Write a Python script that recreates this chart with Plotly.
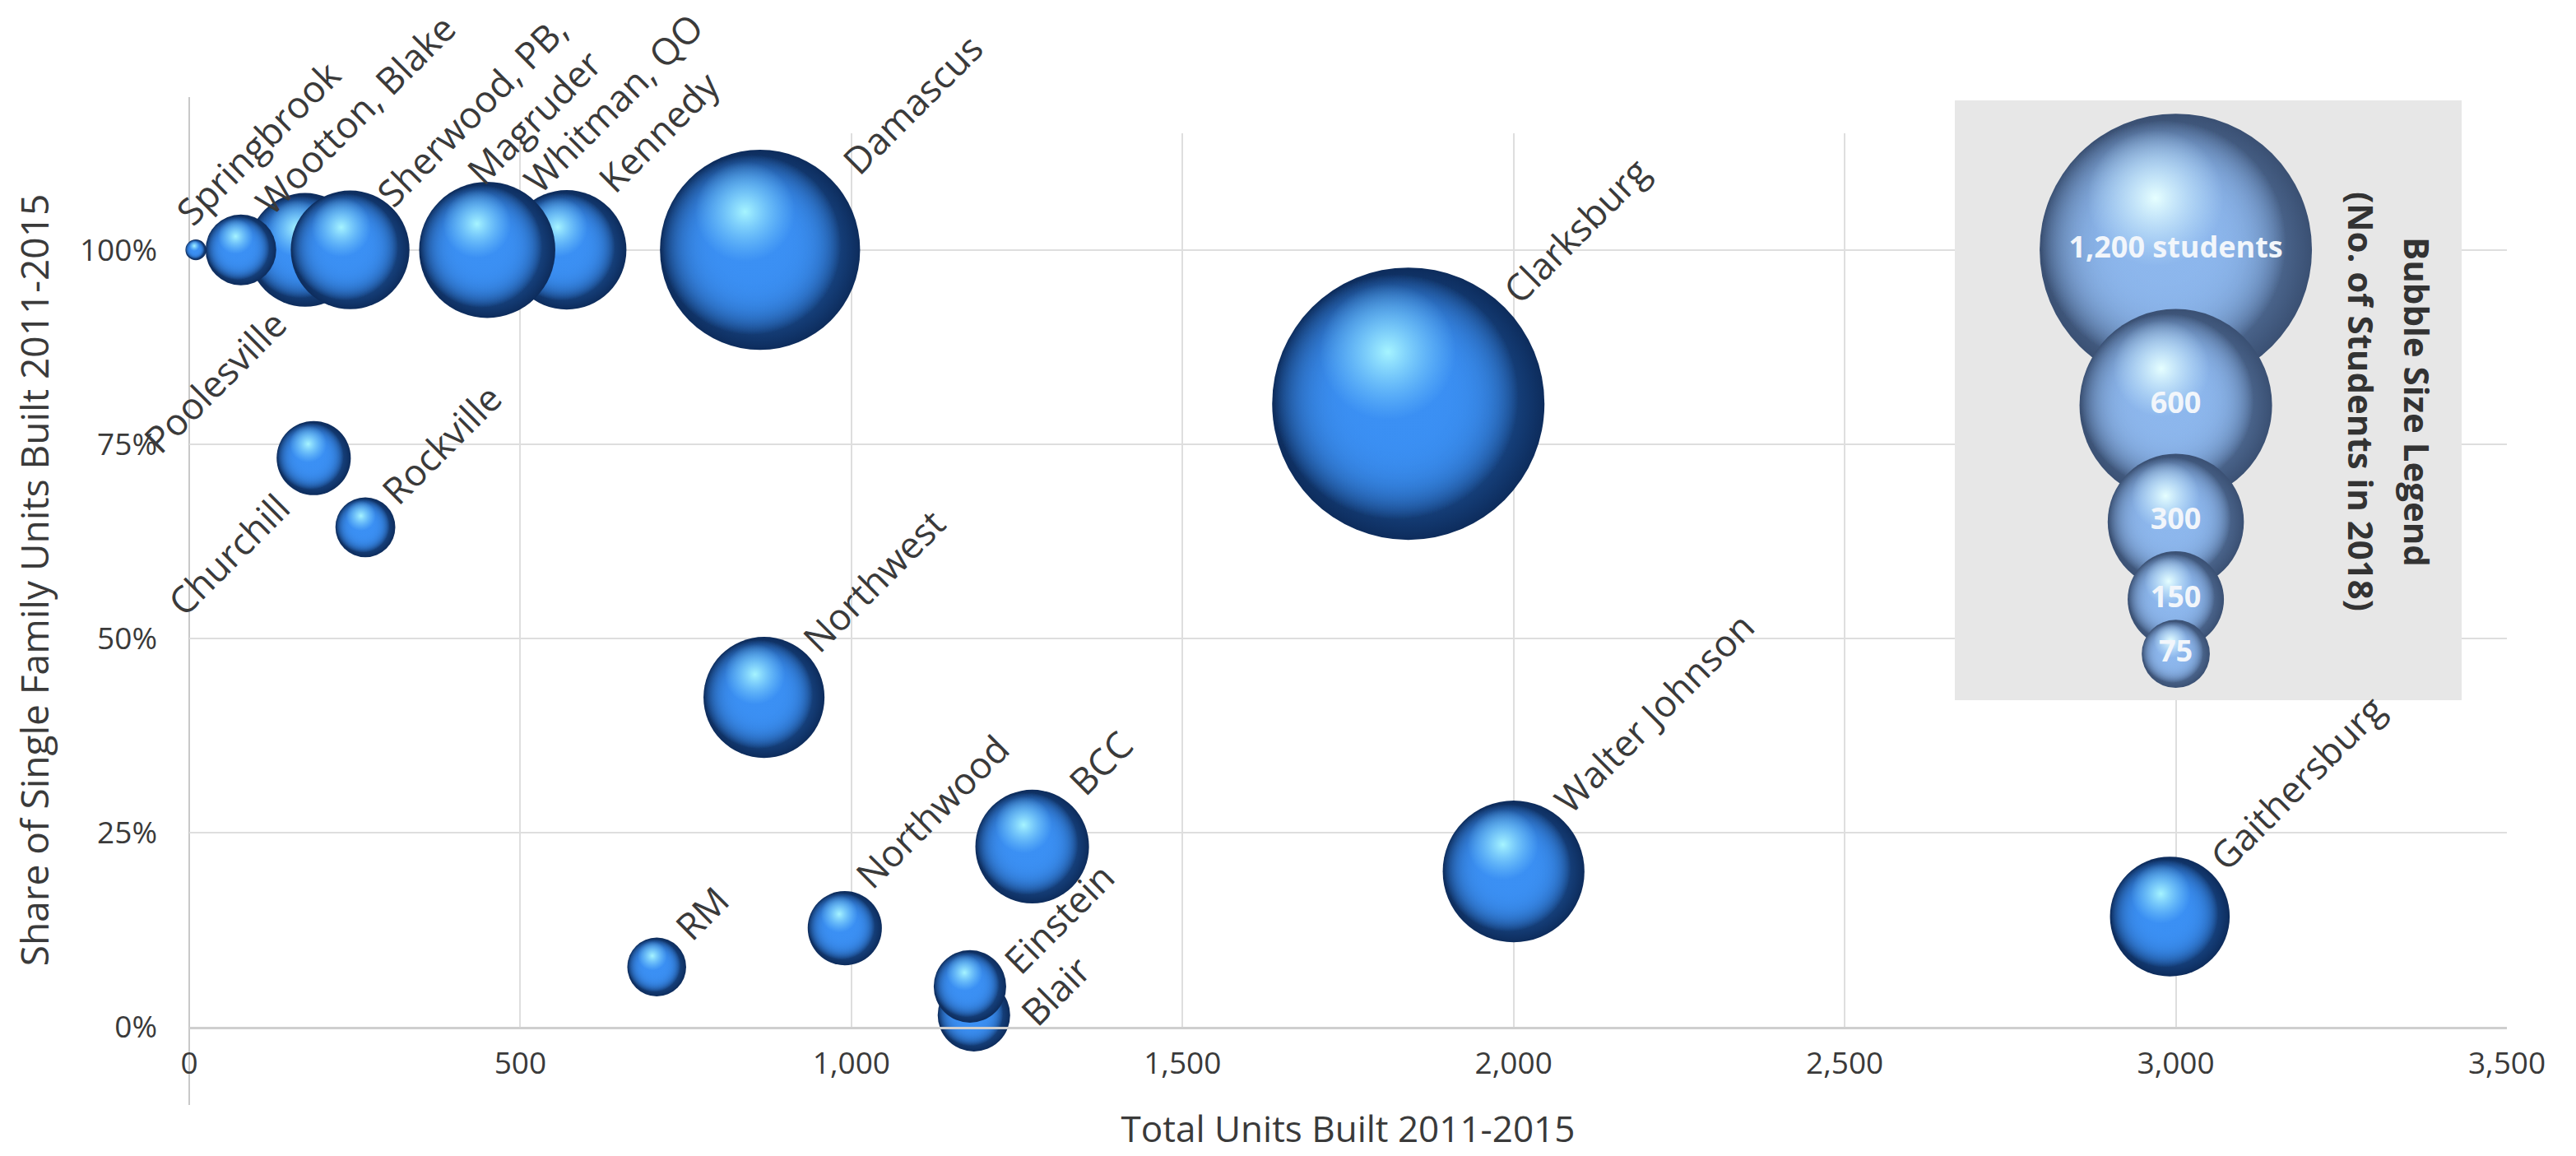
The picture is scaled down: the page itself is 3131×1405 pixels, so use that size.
import numpy as np
import plotly.graph_objects as go

# ---------------- data ----------------
schools = ["Poolesville", "Wootton, Blake", "Springbrook", "Sherwood, PB, Magruder",
           "Kennedy", "Whitman, QO", "Damascus", "Churchill", "Rockville", "Northwest",
           "RM", "Northwood", "BCC", "Blair", "Einstein", "Walter Johnson",
           "Gaithersburg", "Clarksburg"]
total_units = [175, 78, 10, 243, 570, 450, 862, 188, 266, 868,
               706, 990, 1273, 1185, 1179, 2000, 2991, 1841]
sf_share = [1.0, 1.0, 1.0, 1.0, 1.0, 1.0, 1.0, 0.732, 0.643, 0.424,
            0.077, 0.127, 0.232, 0.015, 0.052, 0.200, 0.142, 0.802]
students_2018 = [209, 81, 7, 228, 231, 300, 648, 89, 58, 237,
                 56, 89, 209, 85, 85, 325, 232, 1200]

legend_students = [1200, 600, 300, 150, 75]
legend_labels = ["1,200 students", "600", "300", "150", "75"]
legend_x = [3000, 3000, 3000, 3000, 3000]
legend_y = [1.0, 0.80, 0.65, 0.55, 0.48]

x_tickvals = [0, 500, 1000, 1500, 2000, 2500, 3000, 3500]
y_tickvals = [0, 0.25, 0.5, 0.75, 1.0]

# ---------------- layout / style ----------------
W, H = 3131, 1405
MARGIN = dict(l=230, r=84, t=162, b=157, pad=0)
X_RANGE = [0, 3500]
Y_RANGE = [0, 1.15]
PLOT_W = W - MARGIN["l"] - MARGIN["r"]
PLOT_H = H - MARGIN["t"] - MARGIN["b"]
PX_PER_X = PLOT_W / (X_RANGE[1] - X_RANGE[0])
PX_PER_Y = PLOT_H / (Y_RANGE[1] - Y_RANGE[0])

MAX_D = 331.0            # px diameter of the 1,200-student bubble
SIZEREF = 2.0 * 1200 / MAX_D ** 2
FONT = "Open Sans"
TXT = "#3a3a3a"

# sphere shading layers: (size factor, dx frac of r, dy frac of r (up), edge colour, centre colour)
MAIN_LAYERS = (
    [(1.00, 0.0, 0.0, "#0d2c5c", "#3589ee")]
    + [(0.90, -0.09, 0.05, "rgba(59,144,244,0)", "#3b90f4")] * 4
    + [(0.50, -0.15, 0.38, "rgba(130,215,255,0)", "#a6f4ff")]
)
LEG_LAYERS = (
    [(1.00, 0.0, 0.0, "#3a5073", "#84ace2")]
    + [(0.90, -0.09, 0.05, "rgba(140,182,236,0)", "#8db7ed")] * 4
    + [(0.50, -0.15, 0.38, "rgba(200,235,255,0)", "#e6ffff")]
)

# label placement: (side, xshift px, yshift px) relative to bubble centre
LABEL_STYLE = {
    "Clarksburg": ("ur", 99, 107), "Damascus": ("ur", 84, 76),
    "Walter Johnson": ("ur", 33, 56), "Gaithersburg": ("ur", 33, 41),
    "Northwest": ("ur", 30, 40), "BCC": ("ur", 28, 48),
    "Northwood": ("ur", -3, 33), "RM": ("ur", 6, 17),
    "Einstein": ("ur", 25, 0), "Blair": ("ur", 41, -28),
    "Rockville": ("ur", 3, 13), "Whitman, QO": ("ur", 28, 54),
    "Kennedy": ("ur", 22, 55), "Wootton, Blake": ("ur", 1, 28),
    "Springbrook": ("ur", -41, 15), "Sherwood, PB, Magruder": ("ur", 16, -4),
    "Poolesville": ("ll", -8, -57), "Churchill": ("ll", -14, -27),
}
LABEL_TEXT = {"Sherwood, PB, Magruder": "Sherwood, PB,<br>Magruder"}

# legend panel edges in px (page coordinates)
PANEL_PX = dict(x0=2376, x1=2992, y_top=122, y_bot=851)


def diam_px(s):
    return MAX_D * np.sqrt(s / 1200.0)


def sphere_traces(x, y, s, layers, text=None, textfont=None):
    r = diam_px(s) / 2.0
    out = []
    for k, fx, fy, edge, center in layers:
        out.append(go.Scatter(
            x=[x + fx * r / PX_PER_X], y=[y + fy * r / PX_PER_Y],
            mode="markers",
            marker=dict(size=[s * k * k], sizemode="area", sizeref=SIZEREF, opacity=1,
                        color=edge, gradient=dict(type="radial", color=center),
                        line=dict(width=0)),
            cliponaxis=False, hoverinfo="skip", showlegend=False,
        ))
    if text is not None:
        out.append(go.Scatter(x=[x], y=[y], mode="text", text=[text],
                              textposition="middle center", textfont=textfont,
                              cliponaxis=False, hoverinfo="skip", showlegend=False))
    return out


fig = go.Figure()

# main bubbles (drawn in list order so overlaps match)
for name, xv, yv, sv in zip(schools, total_units, sf_share, students_2018):
    for tr in sphere_traces(xv, yv, sv, MAIN_LAYERS):
        fig.add_trace(tr)

# size legend bubbles
for lab, xv, yv, sv in zip(legend_labels, legend_x, legend_y, legend_students):
    for tr in sphere_traces(xv, yv, sv, LEG_LAYERS, text="<b>%s</b>" % lab,
                            textfont=dict(family=FONT, size=36, color="#f2f6fb")):
        fig.add_trace(tr)

# data labels
annotations = []
for name, xv, yv in zip(schools, total_units, sf_share):
    side, xs, ys = LABEL_STYLE[name]
    annotations.append(dict(
        x=xv, y=yv, xref="x", yref="y", text=LABEL_TEXT.get(name, name),
        textangle=-45, showarrow=False,
        xanchor="left" if side == "ur" else "right",
        yanchor="bottom" if side == "ur" else "top",
        align="right", xshift=xs, yshift=ys,
        font=dict(family=FONT, size=45, color=TXT)))

# legend title (two rotated lines)
for txt, cx in (("<b>Bubble Size Legend</b>", 2939), ("<b>(No. of Students in 2018)</b>", 2871)):
    annotations.append(dict(x=(cx - MARGIN["l"]) / PLOT_W, y=(H - MARGIN["b"] - 488) / PLOT_H,
                            xref="paper", yref="paper", text=txt,
                            textangle=90, showarrow=False, xanchor="center", yanchor="middle",
                            font=dict(family=FONT, size=42, color="#333333")))

px0 = (PANEL_PX["x0"] - MARGIN["l"]) / PLOT_W
px1 = (PANEL_PX["x1"] - MARGIN["l"]) / PLOT_W
py0 = (H - MARGIN["b"] - PANEL_PX["y_bot"]) / PLOT_H
py1 = (H - MARGIN["b"] - PANEL_PX["y_top"]) / PLOT_H
shapes = [
    # grey legend panel: full panel beneath everything (shows above the plot area) ...
    dict(type="rect", xref="paper", yref="paper", x0=px0, x1=px1, y0=py0, y1=py1,
         fillcolor="#e7e7e7", line=dict(width=0), layer="below"),
    # ... and the in-plot part drawn over the gridlines but under the bubbles
    dict(type="rect", xref="x", yref="y",
         x0=X_RANGE[0] + px0 * (X_RANGE[1] - X_RANGE[0]),
         x1=X_RANGE[0] + px1 * (X_RANGE[1] - X_RANGE[0]),
         y0=Y_RANGE[0] + py0 * (Y_RANGE[1] - Y_RANGE[0]), y1=Y_RANGE[1],
         fillcolor="#e7e7e7", line=dict(width=0), layer="between"),
    # vertical axis line (extends past the plot area as in the original)
    dict(type="line", xref="paper", yref="paper", x0=0, x1=0,
         y0=-95 / PLOT_H, y1=1 + 44 / PLOT_H,
         line=dict(color="#c9c9c9", width=2), layer="below"),
]

fig.update_layout(
    width=W, height=H, margin=MARGIN,
    paper_bgcolor="white", plot_bgcolor="rgba(0,0,0,0)",
    showlegend=False, annotations=annotations, shapes=shapes,
    font=dict(family=FONT, color=TXT),
    xaxis=dict(range=X_RANGE, tickvals=x_tickvals, tickformat=",d",
               showgrid=True, gridcolor="#dedede", gridwidth=2,
               zeroline=False, showline=True, linecolor="#cfcfcf", linewidth=3,
               ticks="", ticklabelstandoff=10, automargin=False,
               tickfont=dict(family=FONT, size=37, color=TXT),
               title=dict(text="Total Units Built 2011-2015", standoff=42,
                          font=dict(family=FONT, size=44, color=TXT))),
    yaxis=dict(range=Y_RANGE, tickvals=y_tickvals, tickformat=".0%",
               showgrid=True, gridcolor="#dedede", gridwidth=2,
               zeroline=False, showline=False,
               ticks="", ticklabelstandoff=38, automargin=False,
               tickfont=dict(family=FONT, size=37, color=TXT),
               title=dict(text="Share of Single Family Units Built 2011-2015", standoff=22,
                          font=dict(family=FONT, size=46, color=TXT))),
)

fig.write_html("out.html")
